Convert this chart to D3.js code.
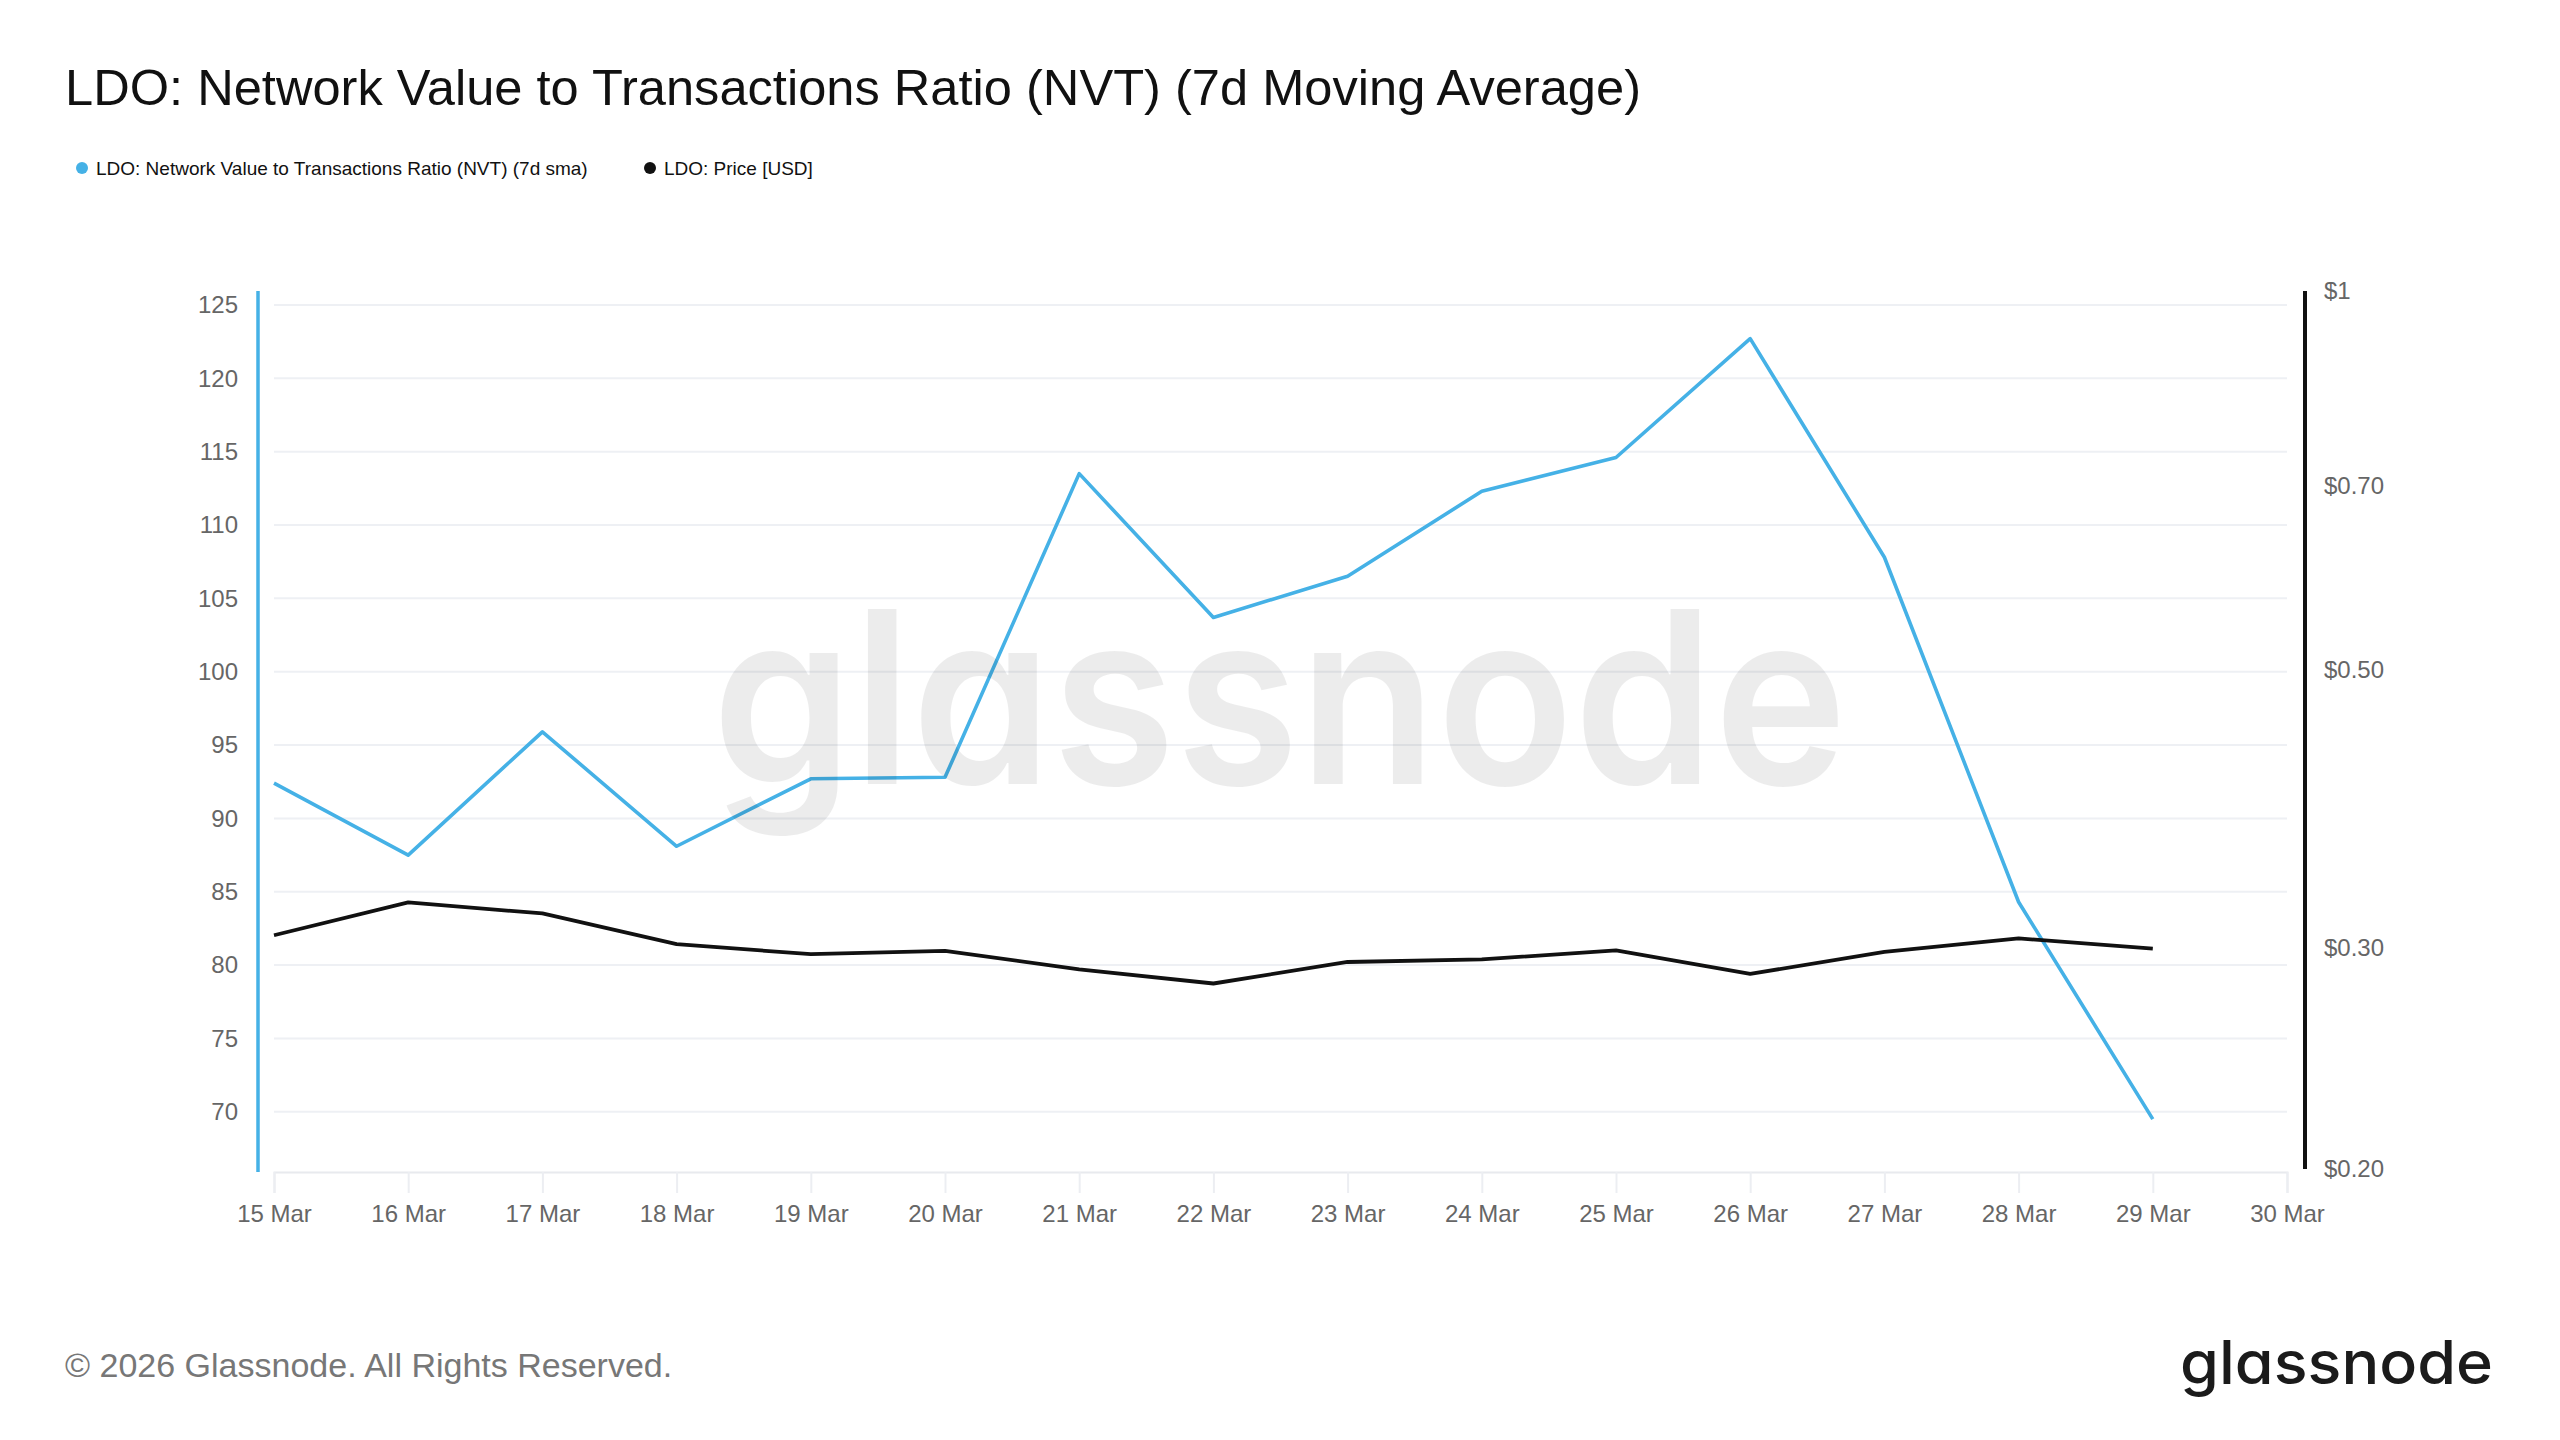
<!DOCTYPE html>
<html lang="en">
<head>
  <meta charset="UTF-8">
  <title>LDO: Network Value to Transactions Ratio (NVT) (7d Moving Average)</title>
  <script src="https://d3js.org/d3.v7.min.js"></script>
  <style>
    html,body{margin:0;padding:0;background:#fff}
    svg{display:block;font-family:"Liberation Sans",Arial,Helvetica,sans-serif}
    .tick-label{font-size:24px;fill:#666}
    .grid{stroke:#eef0f4;stroke-width:2}
    .brand{font-family:Inter,"Open Sans",sans-serif;font-feature-settings:"cv11" 1}
  </style>
</head>
<body>
<div id="chart"></div>
<script>
/* --- data --- */
const dates=["2026-03-15","2026-03-16","2026-03-17","2026-03-18","2026-03-19","2026-03-20","2026-03-21",
             "2026-03-22","2026-03-23","2026-03-24","2026-03-25","2026-03-26","2026-03-27","2026-03-28","2026-03-29"];
const nvtValues=[92.4,87.5,95.9,88.1,92.7,92.8,113.5,103.7,106.5,112.3,114.6,122.7,107.8,84.3,69.5];
const priceValues=[0.307,0.326,0.3195,0.302,0.2965,0.2983,0.2884,0.281,0.2923,0.2937,0.2986,0.286,0.2978,0.3052,0.2995];
const leftTicks=[70,75,80,85,90,95,100,105,110,115,120,125];
const rightTicks=[0.2,0.3,0.5,0.7,1];
const xDomain=["2026-03-15","2026-03-30"];

const title="LDO: Network Value to Transactions Ratio (NVT) (7d Moving Average)";
const seriesNames=["LDO: Network Value to Transactions Ratio (NVT) (7d sma)","LDO: Price [USD]"];
const blue="#45b1e6",black="#111";

/* --- sizes --- */
const W=2560,H=1440;
const plot={left:274,right:2287,top:291,bottom:1169};

const svg=d3.select("#chart").append("svg").attr("width",W).attr("height",H);
svg.append("rect").attr("width",W).attr("height",H).attr("fill","#fff");

const parse=d3.utcParse("%Y-%m-%d");
const x=d3.scaleUtc().domain(xDomain.map(parse)).range([plot.left,plot.right]);
const yL=d3.scaleLinear().domain([66.1,125.95]).range([plot.bottom,plot.top]);
const yR=d3.scaleLog().domain([0.2,1]).range([plot.bottom,plot.top]);

/* --- title & legend --- */
svg.append("text").attr("x",65).attr("y",105)
   .attr("font-size",50).attr("fill","#111")
   .attr("textLength",1576).attr("lengthAdjust","spacingAndGlyphs").text(title);

const legend=[{name:seriesNames[0],c:blue,x:82},{name:seriesNames[1],c:black,x:650}];
legend.forEach(l=>{
  svg.append("circle").attr("cx",l.x).attr("cy",168).attr("r",6).attr("fill",l.c);
  svg.append("text").attr("x",l.x+14).attr("y",175).attr("font-size",19)
     .attr("fill","#111").text(l.name);
});

/* --- grid --- */
svg.append("g").selectAll("line").data(leftTicks).join("line")
   .attr("class","grid")
   .attr("x1",plot.left).attr("x2",plot.right)
   .attr("y1",d=>yL(d)).attr("y2",d=>yL(d));

/* --- x axis --- */
const xAxis=svg.append("g").attr("transform",`translate(0,${plot.bottom+3})`)
  .call(d3.axisBottom(x).ticks(d3.utcDay.every(1)).tickFormat(d3.utcFormat("%-d %b"))
          .tickSize(21).tickPadding(12));
xAxis.select(".domain").attr("stroke","#e8eaee").attr("stroke-width",2);
xAxis.selectAll(".tick line").attr("stroke","#eceef2").attr("stroke-width",2);
xAxis.selectAll(".tick text").attr("class","tick-label").attr("font-family",null).attr("font-size",null);

/* --- left axis --- */
svg.append("line").attr("x1",258).attr("x2",258).attr("y1",plot.top).attr("y2",plot.bottom+3)
   .attr("stroke",blue).attr("stroke-width",3.5);
svg.append("g").selectAll("text").data(leftTicks).join("text")
   .attr("class","tick-label").attr("x",238).attr("y",d=>yL(d)).attr("dy","0.35em")
   .attr("text-anchor","end").text(d=>d);

/* --- right axis --- */
svg.append("line").attr("x1",2305).attr("x2",2305).attr("y1",plot.top).attr("y2",plot.bottom)
   .attr("stroke",black).attr("stroke-width",4);
svg.append("g").selectAll("text").data(rightTicks).join("text")
   .attr("class","tick-label").attr("x",2324).attr("y",d=>yR(d)).attr("dy","0.35em")
   .text(d=>d===1?"$1":"$"+d.toFixed(2));

/* --- lines --- */
const pts=dates.map((d,i)=>({t:parse(d),nvt:nvtValues[i],p:priceValues[i]}));
svg.append("path").datum(pts)
   .attr("fill","none").attr("stroke",blue).attr("stroke-width",3.6).attr("stroke-linejoin","round")
   .attr("d",d3.line().x(d=>x(d.t)).y(d=>yL(d.nvt)));
svg.append("path").datum(pts)
   .attr("fill","none").attr("stroke",black).attr("stroke-width",3.8).attr("stroke-linejoin","round")
   .attr("d",d3.line().x(d=>x(d.t)).y(d=>yR(d.p)));

/* --- watermark (drawn over the lines, translucent) --- */
svg.append("text").attr("class","brand").attr("x",712).attr("y",784)
   .attr("font-size",240).attr("font-weight",600).attr("fill","#000").attr("fill-opacity",0.075)
   .attr("textLength",1135).attr("lengthAdjust","spacingAndGlyphs").text("glassnode");

/* --- footer --- */
svg.append("text").attr("x",65).attr("y",1377).attr("font-size",34).attr("fill","#777")
   .text("© 2026 Glassnode. All Rights Reserved.");
svg.append("text").attr("class","brand").attr("x",2180).attr("y",1384)
   .attr("font-size",60).attr("font-weight",500).attr("fill","#1b1b1b")
   .attr("textLength",313).attr("lengthAdjust","spacingAndGlyphs").text("glassnode");
</script>
</body>
</html>
